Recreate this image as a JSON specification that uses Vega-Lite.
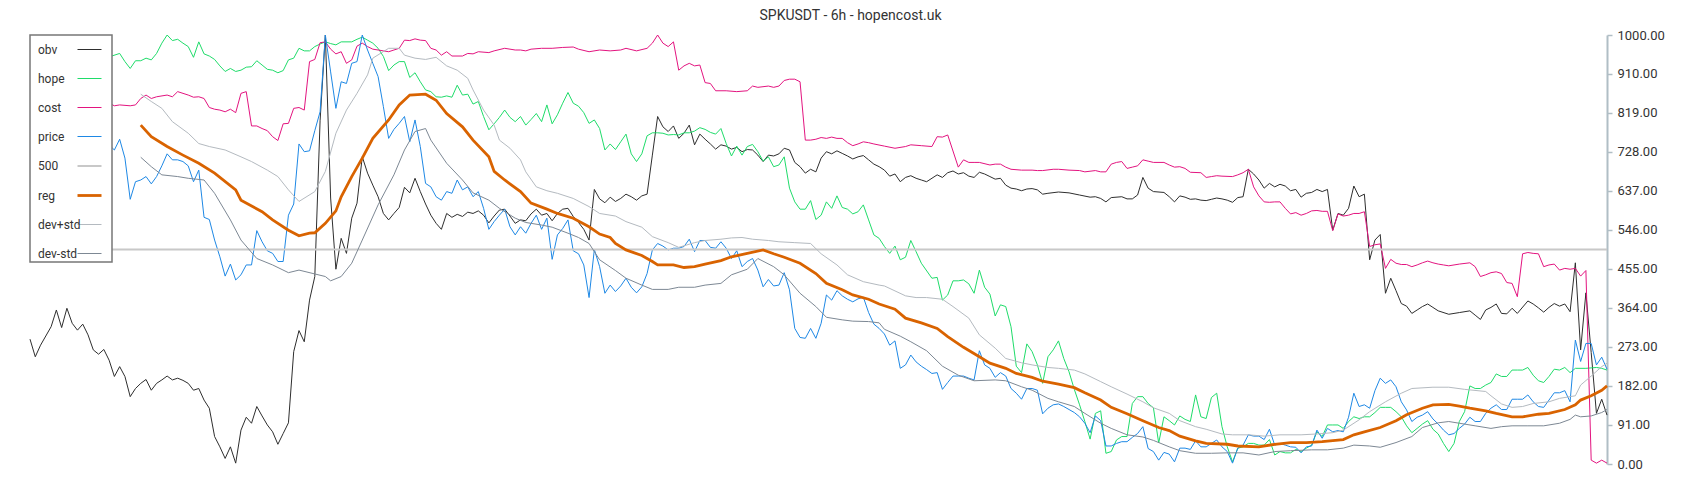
{
"$schema": "https://vega.github.io/schema/vega-lite/v6.json",
"width": 1577, "height": 429,
"autosize": {"type": "none"},
"padding": {"left": 30, "top": 35, "right": 93, "bottom": 36},
"background": "white",
"title": {"text": "SPKUSDT - 6h - hopencost.uk", "anchor": "middle", "dx": 32, "offset": 6, "fontSize": 14, "font": "Roboto", "fontWeight": "normal", "color": "#333333"},
"config": {"view": {"stroke": null}, "legend": {"strokeWidth": 1.5}},
"data": {"values": [
{"s":"obv","i":0,"v":291},{"s":"obv","i":1,"v":250},{"s":"obv","i":2,"v":277},{"s":"obv","i":4,"v":320},{"s":"obv","i":5,"v":359},{"s":"obv","i":6,"v":318},{"s":"obv","i":7,"v":363},{"s":"obv","i":8,"v":328},{"s":"obv","i":9,"v":312},{"s":"obv","i":10,"v":326},{"s":"obv","i":11,"v":301},{"s":"obv","i":12,"v":266},{"s":"obv","i":13,"v":256},{"s":"obv","i":14,"v":267},{"s":"obv","i":15,"v":242},{"s":"obv","i":16,"v":204},{"s":"obv","i":17,"v":227},{"s":"obv","i":18,"v":204},{"s":"obv","i":19,"v":157},{"s":"obv","i":20,"v":176},{"s":"obv","i":21,"v":188},{"s":"obv","i":22,"v":197},{"s":"obv","i":23,"v":172},{"s":"obv","i":24,"v":188},{"s":"obv","i":25,"v":196},{"s":"obv","i":26,"v":205},{"s":"obv","i":27,"v":196},{"s":"obv","i":28,"v":200},{"s":"obv","i":29,"v":195},{"s":"obv","i":30,"v":188},{"s":"obv","i":31,"v":172},{"s":"obv","i":32,"v":176},{"s":"obv","i":33,"v":149},{"s":"obv","i":34,"v":130},{"s":"obv","i":35,"v":64},{"s":"obv","i":36,"v":40},{"s":"obv","i":37,"v":13},{"s":"obv","i":38,"v":40},{"s":"obv","i":39,"v":2},{"s":"obv","i":40,"v":79},{"s":"obv","i":41,"v":109},{"s":"obv","i":42,"v":95},{"s":"obv","i":43,"v":134},{"s":"obv","i":44,"v":112},{"s":"obv","i":45,"v":91},{"s":"obv","i":46,"v":75},{"s":"obv","i":47,"v":46},{"s":"obv","i":48,"v":71},{"s":"obv","i":49,"v":96},{"s":"obv","i":50,"v":262},{"s":"obv","i":51,"v":311},{"s":"obv","i":52,"v":285},{"s":"obv","i":53,"v":382},{"s":"obv","i":54,"v":437},{"s":"obv","i":55,"v":800},{"s":"obv","i":56,"v":1000},{"s":"obv","i":57,"v":620},{"s":"obv","i":58,"v":454},{"s":"obv","i":59,"v":526},{"s":"obv","i":60,"v":491},{"s":"obv","i":61,"v":573},{"s":"obv","i":62,"v":608},{"s":"obv","i":63,"v":716},{"s":"obv","i":64,"v":678},{"s":"obv","i":65,"v":650},{"s":"obv","i":66,"v":623},{"s":"obv","i":67,"v":584},{"s":"obv","i":68,"v":569},{"s":"obv","i":69,"v":584},{"s":"obv","i":70,"v":598},{"s":"obv","i":71,"v":645},{"s":"obv","i":72,"v":632},{"s":"obv","i":73,"v":666},{"s":"obv","i":74,"v":635},{"s":"obv","i":75,"v":606},{"s":"obv","i":76,"v":580},{"s":"obv","i":77,"v":561},{"s":"obv","i":78,"v":547},{"s":"obv","i":79,"v":584},{"s":"obv","i":80,"v":575},{"s":"obv","i":81,"v":582},{"s":"obv","i":82,"v":577},{"s":"obv","i":83,"v":587},{"s":"obv","i":84,"v":584},{"s":"obv","i":85,"v":590},{"s":"obv","i":86,"v":580},{"s":"obv","i":87,"v":562},{"s":"obv","i":88,"v":578},{"s":"obv","i":89,"v":592},{"s":"obv","i":90,"v":594},{"s":"obv","i":91,"v":578},{"s":"obv","i":92,"v":561},{"s":"obv","i":93,"v":569},{"s":"obv","i":94,"v":567},{"s":"obv","i":95,"v":583},{"s":"obv","i":96,"v":594},{"s":"obv","i":97,"v":580},{"s":"obv","i":98,"v":584},{"s":"obv","i":99,"v":567},{"s":"obv","i":100,"v":584},{"s":"obv","i":101,"v":594},{"s":"obv","i":102,"v":596},{"s":"obv","i":103,"v":577},{"s":"obv","i":104,"v":563},{"s":"obv","i":105,"v":547},{"s":"obv","i":106,"v":522},{"s":"obv","i":107,"v":640},{"s":"obv","i":108,"v":618},{"s":"obv","i":109,"v":609},{"s":"obv","i":110,"v":622},{"s":"obv","i":111,"v":612},{"s":"obv","i":112,"v":619},{"s":"obv","i":113,"v":629},{"s":"obv","i":114,"v":623},{"s":"obv","i":115,"v":615},{"s":"obv","i":116,"v":625},{"s":"obv","i":117,"v":629},{"s":"obv","i":118,"v":720},{"s":"obv","i":119,"v":810},{"s":"obv","i":120,"v":786},{"s":"obv","i":121,"v":775},{"s":"obv","i":122,"v":788},{"s":"obv","i":123,"v":759},{"s":"obv","i":124,"v":771},{"s":"obv","i":125,"v":790},{"s":"obv","i":126,"v":744},{"s":"obv","i":127,"v":769},{"s":"obv","i":128,"v":757},{"s":"obv","i":129,"v":746},{"s":"obv","i":130,"v":734},{"s":"obv","i":131,"v":744},{"s":"obv","i":132,"v":741},{"s":"obv","i":133,"v":734},{"s":"obv","i":134,"v":738},{"s":"obv","i":135,"v":728},{"s":"obv","i":136,"v":733},{"s":"obv","i":137,"v":732},{"s":"obv","i":138,"v":720},{"s":"obv","i":139,"v":705},{"s":"obv","i":140,"v":720},{"s":"obv","i":141,"v":718},{"s":"obv","i":142,"v":723},{"s":"obv","i":143,"v":736},{"s":"obv","i":144,"v":732},{"s":"obv","i":145,"v":703},{"s":"obv","i":146,"v":693},{"s":"obv","i":147,"v":678},{"s":"obv","i":148,"v":687},{"s":"obv","i":149,"v":681},{"s":"obv","i":150,"v":713},{"s":"obv","i":151,"v":728},{"s":"obv","i":152,"v":723},{"s":"obv","i":153,"v":730},{"s":"obv","i":154,"v":724},{"s":"obv","i":155,"v":718},{"s":"obv","i":156,"v":711},{"s":"obv","i":157,"v":716},{"s":"obv","i":158,"v":719},{"s":"obv","i":159,"v":709},{"s":"obv","i":160,"v":699},{"s":"obv","i":161,"v":693},{"s":"obv","i":162,"v":685},{"s":"obv","i":163,"v":671},{"s":"obv","i":164,"v":676},{"s":"obv","i":165,"v":658},{"s":"obv","i":166,"v":668},{"s":"obv","i":167,"v":672},{"s":"obv","i":168,"v":666},{"s":"obv","i":169,"v":662},{"s":"obv","i":170,"v":658},{"s":"obv","i":172,"v":674},{"s":"obv","i":173,"v":668},{"s":"obv","i":174,"v":679},{"s":"obv","i":175,"v":683},{"s":"obv","i":176,"v":676},{"s":"obv","i":177,"v":679},{"s":"obv","i":178,"v":671},{"s":"obv","i":179,"v":668},{"s":"obv","i":180,"v":680},{"s":"obv","i":181,"v":676},{"s":"obv","i":182,"v":670},{"s":"obv","i":183,"v":664},{"s":"obv","i":184,"v":666},{"s":"obv","i":185,"v":650},{"s":"obv","i":186,"v":643},{"s":"obv","i":187,"v":641},{"s":"obv","i":188,"v":637},{"s":"obv","i":189,"v":641},{"s":"obv","i":190,"v":642},{"s":"obv","i":191,"v":639},{"s":"obv","i":192,"v":629},{"s":"obv","i":193,"v":631},{"s":"obv","i":195,"v":634},{"s":"obv","i":197,"v":632},{"s":"obv","i":199,"v":627},{"s":"obv","i":201,"v":622},{"s":"obv","i":202,"v":623},{"s":"obv","i":203,"v":619},{"s":"obv","i":204,"v":611},{"s":"obv","i":205,"v":621},{"s":"obv","i":207,"v":623},{"s":"obv","i":208,"v":618},{"s":"obv","i":209,"v":618},{"s":"obv","i":210,"v":627},{"s":"obv","i":211,"v":668},{"s":"obv","i":212,"v":643},{"s":"obv","i":213,"v":635},{"s":"obv","i":215,"v":633},{"s":"obv","i":216,"v":623},{"s":"obv","i":217,"v":611},{"s":"obv","i":218,"v":625},{"s":"obv","i":219,"v":622},{"s":"obv","i":220,"v":617},{"s":"obv","i":221,"v":618},{"s":"obv","i":222,"v":615},{"s":"obv","i":223,"v":614},{"s":"obv","i":224,"v":617},{"s":"obv","i":225,"v":620},{"s":"obv","i":226,"v":618},{"s":"obv","i":227,"v":615},{"s":"obv","i":228,"v":610},{"s":"obv","i":229,"v":621},{"s":"obv","i":230,"v":623},{"s":"obv","i":231,"v":687},{"s":"obv","i":232,"v":676},{"s":"obv","i":233,"v":662},{"s":"obv","i":234,"v":643},{"s":"obv","i":235,"v":654},{"s":"obv","i":236,"v":646},{"s":"obv","i":237,"v":652},{"s":"obv","i":238,"v":648},{"s":"obv","i":239,"v":637},{"s":"obv","i":240,"v":640},{"s":"obv","i":241,"v":622},{"s":"obv","i":242,"v":631},{"s":"obv","i":243,"v":633},{"s":"obv","i":244,"v":640},{"s":"obv","i":245,"v":635},{"s":"obv","i":246,"v":640},{"s":"obv","i":247,"v":545},{"s":"obv","i":248,"v":584},{"s":"obv","i":249,"v":580},{"s":"obv","i":250,"v":596},{"s":"obv","i":251,"v":648},{"s":"obv","i":252,"v":623},{"s":"obv","i":253,"v":629},{"s":"obv","i":254,"v":476},{"s":"obv","i":255,"v":522},{"s":"obv","i":256,"v":535},{"s":"obv","i":257,"v":398},{"s":"obv","i":258,"v":433},{"s":"obv","i":259,"v":404},{"s":"obv","i":260,"v":374},{"s":"obv","i":261,"v":368},{"s":"obv","i":262,"v":351},{"s":"obv","i":263,"v":359},{"s":"obv","i":264,"v":367},{"s":"obv","i":265,"v":373},{"s":"obv","i":266,"v":365},{"s":"obv","i":267,"v":357},{"s":"obv","i":269,"v":349},{"s":"obv","i":271,"v":353},{"s":"obv","i":273,"v":357},{"s":"obv","i":274,"v":347},{"s":"obv","i":275,"v":337},{"s":"obv","i":276,"v":359},{"s":"obv","i":277,"v":365},{"s":"obv","i":278,"v":373},{"s":"obv","i":279,"v":351},{"s":"obv","i":280,"v":350},{"s":"obv","i":281,"v":363},{"s":"obv","i":282,"v":351},{"s":"obv","i":284,"v":380},{"s":"obv","i":285,"v":373},{"s":"obv","i":286,"v":364},{"s":"obv","i":287,"v":354},{"s":"obv","i":288,"v":365},{"s":"obv","i":289,"v":374},{"s":"obv","i":290,"v":368},{"s":"obv","i":291,"v":373},{"s":"obv","i":292,"v":355},{"s":"obv","i":293,"v":469},{"s":"obv","i":294,"v":266},{"s":"obv","i":295,"v":399},{"s":"obv","i":296,"v":260},{"s":"obv","i":297,"v":118},{"s":"obv","i":298,"v":151},{"s":"obv","i":299,"v":114},
{"s":"hope","i":0,"v":950},{"s":"hope","i":3,"v":955},{"s":"hope","i":6,"v":945},{"s":"hope","i":9,"v":958},{"s":"hope","i":12,"v":950},{"s":"hope","i":15,"v":949},{"s":"hope","i":17,"v":957},{"s":"hope","i":18,"v":938},{"s":"hope","i":19,"v":922},{"s":"hope","i":20,"v":940},{"s":"hope","i":21,"v":940},{"s":"hope","i":22,"v":946},{"s":"hope","i":23,"v":942},{"s":"hope","i":24,"v":957},{"s":"hope","i":25,"v":981},{"s":"hope","i":26,"v":1000},{"s":"hope","i":27,"v":987},{"s":"hope","i":28,"v":990},{"s":"hope","i":29,"v":981},{"s":"hope","i":30,"v":973},{"s":"hope","i":31,"v":948},{"s":"hope","i":32,"v":984},{"s":"hope","i":33,"v":956},{"s":"hope","i":34,"v":951},{"s":"hope","i":35,"v":943},{"s":"hope","i":36,"v":928},{"s":"hope","i":37,"v":915},{"s":"hope","i":38,"v":922},{"s":"hope","i":39,"v":915},{"s":"hope","i":40,"v":918},{"s":"hope","i":41,"v":925},{"s":"hope","i":42,"v":926},{"s":"hope","i":43,"v":940},{"s":"hope","i":44,"v":930},{"s":"hope","i":45,"v":920},{"s":"hope","i":46,"v":918},{"s":"hope","i":47,"v":912},{"s":"hope","i":48,"v":917},{"s":"hope","i":49,"v":942},{"s":"hope","i":50,"v":946},{"s":"hope","i":51,"v":969},{"s":"hope","i":52,"v":963},{"s":"hope","i":53,"v":963},{"s":"hope","i":54,"v":973},{"s":"hope","i":55,"v":979},{"s":"hope","i":56,"v":984},{"s":"hope","i":57,"v":980},{"s":"hope","i":58,"v":977},{"s":"hope","i":59,"v":984},{"s":"hope","i":61,"v":984},{"s":"hope","i":62,"v":990},{"s":"hope","i":63,"v":995},{"s":"hope","i":64,"v":988},{"s":"hope","i":65,"v":981},{"s":"hope","i":66,"v":969},{"s":"hope","i":67,"v":950},{"s":"hope","i":68,"v":917},{"s":"hope","i":69,"v":930},{"s":"hope","i":70,"v":938},{"s":"hope","i":71,"v":938},{"s":"hope","i":72,"v":901},{"s":"hope","i":73,"v":912},{"s":"hope","i":74,"v":891},{"s":"hope","i":75,"v":872},{"s":"hope","i":76,"v":868},{"s":"hope","i":77,"v":856},{"s":"hope","i":78,"v":855},{"s":"hope","i":79,"v":858},{"s":"hope","i":80,"v":855},{"s":"hope","i":81,"v":883},{"s":"hope","i":82,"v":860},{"s":"hope","i":83,"v":862},{"s":"hope","i":84,"v":839},{"s":"hope","i":85,"v":845},{"s":"hope","i":86,"v":810},{"s":"hope","i":87,"v":779},{"s":"hope","i":88,"v":793},{"s":"hope","i":89,"v":808},{"s":"hope","i":90,"v":825},{"s":"hope","i":91,"v":808},{"s":"hope","i":92,"v":798},{"s":"hope","i":93,"v":810},{"s":"hope","i":94,"v":790},{"s":"hope","i":95,"v":803},{"s":"hope","i":96,"v":817},{"s":"hope","i":97,"v":798},{"s":"hope","i":98,"v":837},{"s":"hope","i":99,"v":793},{"s":"hope","i":100,"v":814},{"s":"hope","i":101,"v":841},{"s":"hope","i":102,"v":866},{"s":"hope","i":103,"v":841},{"s":"hope","i":104,"v":834},{"s":"hope","i":105,"v":819},{"s":"hope","i":106,"v":794},{"s":"hope","i":107,"v":802},{"s":"hope","i":108,"v":782},{"s":"hope","i":109,"v":732},{"s":"hope","i":110,"v":746},{"s":"hope","i":111,"v":733},{"s":"hope","i":112,"v":751},{"s":"hope","i":113,"v":769},{"s":"hope","i":114,"v":723},{"s":"hope","i":115,"v":705},{"s":"hope","i":116,"v":723},{"s":"hope","i":117,"v":765},{"s":"hope","i":118,"v":772},{"s":"hope","i":119,"v":772},{"s":"hope","i":120,"v":771},{"s":"hope","i":121,"v":767},{"s":"hope","i":122,"v":768},{"s":"hope","i":123,"v":767},{"s":"hope","i":124,"v":772},{"s":"hope","i":125,"v":772},{"s":"hope","i":126,"v":776},{"s":"hope","i":127,"v":784},{"s":"hope","i":128,"v":780},{"s":"hope","i":129,"v":773},{"s":"hope","i":130,"v":769},{"s":"hope","i":131,"v":782},{"s":"hope","i":132,"v":747},{"s":"hope","i":133,"v":718},{"s":"hope","i":134,"v":741},{"s":"hope","i":135,"v":720},{"s":"hope","i":136,"v":740},{"s":"hope","i":137,"v":745},{"s":"hope","i":138,"v":728},{"s":"hope","i":139,"v":706},{"s":"hope","i":140,"v":716},{"s":"hope","i":141,"v":693},{"s":"hope","i":142,"v":697},{"s":"hope","i":143,"v":716},{"s":"hope","i":144,"v":643},{"s":"hope","i":145,"v":611},{"s":"hope","i":146,"v":594},{"s":"hope","i":147,"v":594},{"s":"hope","i":148,"v":614},{"s":"hope","i":149,"v":570},{"s":"hope","i":150,"v":580},{"s":"hope","i":151,"v":611},{"s":"hope","i":152,"v":596},{"s":"hope","i":153,"v":625},{"s":"hope","i":154,"v":598},{"s":"hope","i":155,"v":594},{"s":"hope","i":156,"v":583},{"s":"hope","i":157,"v":588},{"s":"hope","i":158,"v":604},{"s":"hope","i":159,"v":569},{"s":"hope","i":160,"v":534},{"s":"hope","i":161,"v":526},{"s":"hope","i":162,"v":507},{"s":"hope","i":163,"v":491},{"s":"hope","i":164,"v":508},{"s":"hope","i":165,"v":476},{"s":"hope","i":166,"v":482},{"s":"hope","i":167,"v":521},{"s":"hope","i":168,"v":495},{"s":"hope","i":169,"v":468},{"s":"hope","i":171,"v":433},{"s":"hope","i":172,"v":435},{"s":"hope","i":173,"v":382},{"s":"hope","i":174,"v":394},{"s":"hope","i":175,"v":427},{"s":"hope","i":176,"v":427},{"s":"hope","i":177,"v":429},{"s":"hope","i":178,"v":420},{"s":"hope","i":179,"v":398},{"s":"hope","i":180,"v":452},{"s":"hope","i":181,"v":412},{"s":"hope","i":182,"v":396},{"s":"hope","i":183,"v":345},{"s":"hope","i":184,"v":371},{"s":"hope","i":185,"v":367},{"s":"hope","i":186,"v":320},{"s":"hope","i":187,"v":228},{"s":"hope","i":188,"v":213},{"s":"hope","i":189,"v":280},{"s":"hope","i":190,"v":262},{"s":"hope","i":191,"v":231},{"s":"hope","i":192,"v":188},{"s":"hope","i":193,"v":250},{"s":"hope","i":194,"v":266},{"s":"hope","i":195,"v":287},{"s":"hope","i":196,"v":246},{"s":"hope","i":197,"v":215},{"s":"hope","i":198,"v":174},{"s":"hope","i":199,"v":138},{"s":"hope","i":200,"v":99},{"s":"hope","i":201,"v":58},{"s":"hope","i":202,"v":118},{"s":"hope","i":203,"v":124},{"s":"hope","i":204,"v":25},{"s":"hope","i":205,"v":29},{"s":"hope","i":206,"v":56},{"s":"hope","i":207,"v":64},{"s":"hope","i":208,"v":64},{"s":"hope","i":209,"v":141},{"s":"hope","i":210,"v":157},{"s":"hope","i":211,"v":157},{"s":"hope","i":212,"v":141},{"s":"hope","i":213,"v":131},{"s":"hope","i":214,"v":49},{"s":"hope","i":215,"v":110},{"s":"hope","i":216,"v":101},{"s":"hope","i":217,"v":91},{"s":"hope","i":218,"v":112},{"s":"hope","i":219,"v":104},{"s":"hope","i":220,"v":99},{"s":"hope","i":221,"v":161},{"s":"hope","i":222,"v":110},{"s":"hope","i":223,"v":106},{"s":"hope","i":224,"v":155},{"s":"hope","i":225,"v":165},{"s":"hope","i":226,"v":87},{"s":"hope","i":227,"v":40},{"s":"hope","i":228,"v":5},{"s":"hope","i":229,"v":37},{"s":"hope","i":230,"v":40},{"s":"hope","i":231,"v":48},{"s":"hope","i":232,"v":48},{"s":"hope","i":233,"v":44},{"s":"hope","i":234,"v":44},{"s":"hope","i":235,"v":57},{"s":"hope","i":236,"v":21},{"s":"hope","i":237,"v":29},{"s":"hope","i":238,"v":26},{"s":"hope","i":239,"v":26},{"s":"hope","i":240,"v":34},{"s":"hope","i":241,"v":29},{"s":"hope","i":242,"v":37},{"s":"hope","i":243,"v":44},{"s":"hope","i":244,"v":75},{"s":"hope","i":245,"v":64},{"s":"hope","i":246,"v":91},{"s":"hope","i":247,"v":91},{"s":"hope","i":248,"v":91},{"s":"hope","i":249,"v":83},{"s":"hope","i":250,"v":99},{"s":"hope","i":251,"v":110},{"s":"hope","i":252,"v":106},{"s":"hope","i":253,"v":110},{"s":"hope","i":254,"v":110},{"s":"hope","i":255,"v":120},{"s":"hope","i":256,"v":132},{"s":"hope","i":257,"v":132},{"s":"hope","i":258,"v":132},{"s":"hope","i":259,"v":122},{"s":"hope","i":260,"v":110},{"s":"hope","i":261,"v":89},{"s":"hope","i":262,"v":73},{"s":"hope","i":263,"v":83},{"s":"hope","i":264,"v":93},{"s":"hope","i":265,"v":101},{"s":"hope","i":266,"v":81},{"s":"hope","i":267,"v":70},{"s":"hope","i":268,"v":48},{"s":"hope","i":269,"v":29},{"s":"hope","i":270,"v":48},{"s":"hope","i":271,"v":99},{"s":"hope","i":272,"v":122},{"s":"hope","i":273,"v":182},{"s":"hope","i":274,"v":176},{"s":"hope","i":275,"v":176},{"s":"hope","i":276,"v":184},{"s":"hope","i":277,"v":190},{"s":"hope","i":278,"v":210},{"s":"hope","i":279,"v":204},{"s":"hope","i":280,"v":204},{"s":"hope","i":281,"v":219},{"s":"hope","i":282,"v":219},{"s":"hope","i":283,"v":219},{"s":"hope","i":284,"v":225},{"s":"hope","i":285,"v":207},{"s":"hope","i":286,"v":194},{"s":"hope","i":287,"v":190},{"s":"hope","i":288,"v":204},{"s":"hope","i":289,"v":221},{"s":"hope","i":290,"v":219},{"s":"hope","i":291,"v":225},{"s":"hope","i":292,"v":213},{"s":"hope","i":293,"v":223},{"s":"hope","i":295,"v":223},{"s":"hope","i":297,"v":225},{"s":"hope","i":298,"v":223},{"s":"hope","i":299,"v":219},
{"s":"cost","i":0,"v":850},{"s":"cost","i":3,"v":848},{"s":"cost","i":6,"v":845},{"s":"cost","i":9,"v":842},{"s":"cost","i":12,"v":843},{"s":"cost","i":15,"v":841},{"s":"cost","i":16,"v":835},{"s":"cost","i":17,"v":837},{"s":"cost","i":19,"v":835},{"s":"cost","i":20,"v":837},{"s":"cost","i":21,"v":852},{"s":"cost","i":22,"v":860},{"s":"cost","i":23,"v":852},{"s":"cost","i":24,"v":856},{"s":"cost","i":26,"v":860},{"s":"cost","i":27,"v":856},{"s":"cost","i":28,"v":868},{"s":"cost","i":30,"v":860},{"s":"cost","i":31,"v":855},{"s":"cost","i":32,"v":856},{"s":"cost","i":33,"v":852},{"s":"cost","i":34,"v":831},{"s":"cost","i":35,"v":827},{"s":"cost","i":36,"v":825},{"s":"cost","i":37,"v":821},{"s":"cost","i":38,"v":827},{"s":"cost","i":39,"v":819},{"s":"cost","i":40,"v":864},{"s":"cost","i":41,"v":868},{"s":"cost","i":42,"v":788},{"s":"cost","i":43,"v":788},{"s":"cost","i":44,"v":782},{"s":"cost","i":45,"v":777},{"s":"cost","i":46,"v":763},{"s":"cost","i":47,"v":754},{"s":"cost","i":48,"v":793},{"s":"cost","i":49,"v":794},{"s":"cost","i":50,"v":829},{"s":"cost","i":51,"v":831},{"s":"cost","i":52,"v":825},{"s":"cost","i":53,"v":938},{"s":"cost","i":54,"v":943},{"s":"cost","i":55,"v":982},{"s":"cost","i":56,"v":984},{"s":"cost","i":57,"v":967},{"s":"cost","i":58,"v":956},{"s":"cost","i":59,"v":961},{"s":"cost","i":60,"v":934},{"s":"cost","i":61,"v":942},{"s":"cost","i":62,"v":974},{"s":"cost","i":63,"v":981},{"s":"cost","i":64,"v":973},{"s":"cost","i":65,"v":967},{"s":"cost","i":66,"v":965},{"s":"cost","i":67,"v":963},{"s":"cost","i":68,"v":961},{"s":"cost","i":69,"v":965},{"s":"cost","i":70,"v":969},{"s":"cost","i":71,"v":988},{"s":"cost","i":72,"v":987},{"s":"cost","i":73,"v":991},{"s":"cost","i":74,"v":988},{"s":"cost","i":75,"v":987},{"s":"cost","i":76,"v":969},{"s":"cost","i":77,"v":965},{"s":"cost","i":78,"v":953},{"s":"cost","i":79,"v":961},{"s":"cost","i":80,"v":951},{"s":"cost","i":82,"v":951},{"s":"cost","i":83,"v":957},{"s":"cost","i":84,"v":956},{"s":"cost","i":85,"v":961},{"s":"cost","i":87,"v":959},{"s":"cost","i":88,"v":963},{"s":"cost","i":90,"v":969},{"s":"cost","i":92,"v":965},{"s":"cost","i":93,"v":965},{"s":"cost","i":94,"v":963},{"s":"cost","i":95,"v":967},{"s":"cost","i":97,"v":969},{"s":"cost","i":99,"v":969},{"s":"cost","i":101,"v":971},{"s":"cost","i":103,"v":972},{"s":"cost","i":104,"v":967},{"s":"cost","i":106,"v":961},{"s":"cost","i":108,"v":965},{"s":"cost","i":110,"v":963},{"s":"cost","i":112,"v":965},{"s":"cost","i":113,"v":969},{"s":"cost","i":115,"v":963},{"s":"cost","i":117,"v":969},{"s":"cost","i":118,"v":981},{"s":"cost","i":119,"v":1000},{"s":"cost","i":120,"v":981},{"s":"cost","i":121,"v":973},{"s":"cost","i":122,"v":984},{"s":"cost","i":123,"v":918},{"s":"cost","i":124,"v":928},{"s":"cost","i":125,"v":934},{"s":"cost","i":126,"v":928},{"s":"cost","i":127,"v":930},{"s":"cost","i":128,"v":889},{"s":"cost","i":129,"v":887},{"s":"cost","i":130,"v":870},{"s":"cost","i":132,"v":870},{"s":"cost","i":134,"v":868},{"s":"cost","i":136,"v":870},{"s":"cost","i":137,"v":881},{"s":"cost","i":138,"v":878},{"s":"cost","i":140,"v":881},{"s":"cost","i":141,"v":878},{"s":"cost","i":142,"v":881},{"s":"cost","i":143,"v":894},{"s":"cost","i":144,"v":897},{"s":"cost","i":145,"v":897},{"s":"cost","i":146,"v":891},{"s":"cost","i":147,"v":755},{"s":"cost","i":148,"v":755},{"s":"cost","i":149,"v":757},{"s":"cost","i":150,"v":761},{"s":"cost","i":151,"v":759},{"s":"cost","i":152,"v":762},{"s":"cost","i":153,"v":759},{"s":"cost","i":154,"v":759},{"s":"cost","i":155,"v":749},{"s":"cost","i":156,"v":742},{"s":"cost","i":157,"v":746},{"s":"cost","i":158,"v":751},{"s":"cost","i":159,"v":749},{"s":"cost","i":160,"v":746},{"s":"cost","i":162,"v":741},{"s":"cost","i":164,"v":736},{"s":"cost","i":166,"v":740},{"s":"cost","i":167,"v":744},{"s":"cost","i":169,"v":742},{"s":"cost","i":171,"v":740},{"s":"cost","i":172,"v":763},{"s":"cost","i":173,"v":762},{"s":"cost","i":174,"v":767},{"s":"cost","i":176,"v":692},{"s":"cost","i":177,"v":709},{"s":"cost","i":178,"v":703},{"s":"cost","i":179,"v":703},{"s":"cost","i":180,"v":703},{"s":"cost","i":182,"v":697},{"s":"cost","i":183,"v":699},{"s":"cost","i":184,"v":699},{"s":"cost","i":185,"v":692},{"s":"cost","i":186,"v":687},{"s":"cost","i":188,"v":685},{"s":"cost","i":190,"v":685},{"s":"cost","i":191,"v":684},{"s":"cost","i":192,"v":684},{"s":"cost","i":194,"v":687},{"s":"cost","i":195,"v":687},{"s":"cost","i":197,"v":685},{"s":"cost","i":199,"v":684},{"s":"cost","i":200,"v":681},{"s":"cost","i":202,"v":684},{"s":"cost","i":203,"v":681},{"s":"cost","i":204,"v":681},{"s":"cost","i":205,"v":699},{"s":"cost","i":206,"v":703},{"s":"cost","i":207,"v":705},{"s":"cost","i":208,"v":689},{"s":"cost","i":209,"v":692},{"s":"cost","i":210,"v":695},{"s":"cost","i":211,"v":709},{"s":"cost","i":212,"v":706},{"s":"cost","i":213,"v":703},{"s":"cost","i":215,"v":703},{"s":"cost","i":216,"v":697},{"s":"cost","i":217,"v":692},{"s":"cost","i":218,"v":693},{"s":"cost","i":219,"v":689},{"s":"cost","i":220,"v":680},{"s":"cost","i":222,"v":679},{"s":"cost","i":223,"v":668},{"s":"cost","i":224,"v":670},{"s":"cost","i":225,"v":672},{"s":"cost","i":226,"v":671},{"s":"cost","i":228,"v":670},{"s":"cost","i":229,"v":674},{"s":"cost","i":230,"v":679},{"s":"cost","i":231,"v":687},{"s":"cost","i":232,"v":646},{"s":"cost","i":233,"v":625},{"s":"cost","i":234,"v":611},{"s":"cost","i":235,"v":610},{"s":"cost","i":236,"v":611},{"s":"cost","i":237,"v":611},{"s":"cost","i":238,"v":596},{"s":"cost","i":239,"v":583},{"s":"cost","i":240,"v":586},{"s":"cost","i":241,"v":580},{"s":"cost","i":242,"v":584},{"s":"cost","i":243,"v":590},{"s":"cost","i":244,"v":591},{"s":"cost","i":245,"v":589},{"s":"cost","i":246,"v":589},{"s":"cost","i":247,"v":544},{"s":"cost","i":248,"v":583},{"s":"cost","i":249,"v":578},{"s":"cost","i":250,"v":580},{"s":"cost","i":251,"v":584},{"s":"cost","i":252,"v":584},{"s":"cost","i":253,"v":588},{"s":"cost","i":254,"v":507},{"s":"cost","i":255,"v":511},{"s":"cost","i":256,"v":513},{"s":"cost","i":257,"v":456},{"s":"cost","i":258,"v":477},{"s":"cost","i":259,"v":468},{"s":"cost","i":260,"v":465},{"s":"cost","i":261,"v":465},{"s":"cost","i":262,"v":460},{"s":"cost","i":263,"v":464},{"s":"cost","i":264,"v":469},{"s":"cost","i":265,"v":473},{"s":"cost","i":266,"v":469},{"s":"cost","i":267,"v":466},{"s":"cost","i":268,"v":464},{"s":"cost","i":269,"v":462},{"s":"cost","i":271,"v":466},{"s":"cost","i":273,"v":469},{"s":"cost","i":274,"v":460},{"s":"cost","i":275,"v":437},{"s":"cost","i":276,"v":441},{"s":"cost","i":277,"v":446},{"s":"cost","i":278,"v":448},{"s":"cost","i":279,"v":444},{"s":"cost","i":280,"v":423},{"s":"cost","i":281,"v":421},{"s":"cost","i":282,"v":390},{"s":"cost","i":283,"v":490},{"s":"cost","i":284,"v":493},{"s":"cost","i":285,"v":491},{"s":"cost","i":286,"v":490},{"s":"cost","i":287,"v":460},{"s":"cost","i":288,"v":464},{"s":"cost","i":289,"v":466},{"s":"cost","i":290,"v":452},{"s":"cost","i":291,"v":456},{"s":"cost","i":292,"v":454},{"s":"cost","i":293,"v":456},{"s":"cost","i":294,"v":438},{"s":"cost","i":295,"v":451},{"s":"cost","i":296,"v":9},{"s":"cost","i":297,"v":2},{"s":"cost","i":298,"v":9},{"s":"cost","i":299,"v":2},
{"s":"price","i":0,"v":720},{"s":"price","i":3,"v":735},{"s":"price","i":6,"v":745},{"s":"price","i":9,"v":730},{"s":"price","i":12,"v":740},{"s":"price","i":15,"v":744},{"s":"price","i":16,"v":732},{"s":"price","i":17,"v":757},{"s":"price","i":18,"v":713},{"s":"price","i":19,"v":617},{"s":"price","i":20,"v":658},{"s":"price","i":21,"v":662},{"s":"price","i":22,"v":670},{"s":"price","i":23,"v":653},{"s":"price","i":24,"v":670},{"s":"price","i":25,"v":695},{"s":"price","i":26,"v":723},{"s":"price","i":27,"v":709},{"s":"price","i":28,"v":709},{"s":"price","i":29,"v":705},{"s":"price","i":30,"v":695},{"s":"price","i":31,"v":658},{"s":"price","i":32,"v":685},{"s":"price","i":33,"v":575},{"s":"price","i":34,"v":570},{"s":"price","i":35,"v":522},{"s":"price","i":36,"v":483},{"s":"price","i":37,"v":438},{"s":"price","i":38,"v":466},{"s":"price","i":39,"v":429},{"s":"price","i":40,"v":441},{"s":"price","i":41,"v":464},{"s":"price","i":42,"v":464},{"s":"price","i":43,"v":544},{"s":"price","i":44,"v":518},{"s":"price","i":45,"v":497},{"s":"price","i":46,"v":491},{"s":"price","i":47,"v":472},{"s":"price","i":48,"v":472},{"s":"price","i":49,"v":580},{"s":"price","i":50,"v":606},{"s":"price","i":51,"v":746},{"s":"price","i":52,"v":728},{"s":"price","i":53,"v":730},{"s":"price","i":54,"v":777},{"s":"price","i":55,"v":821},{"s":"price","i":56,"v":1000},{"s":"price","i":57,"v":914},{"s":"price","i":58,"v":829},{"s":"price","i":59,"v":891},{"s":"price","i":60,"v":887},{"s":"price","i":61,"v":934},{"s":"price","i":62,"v":938},{"s":"price","i":63,"v":1000},{"s":"price","i":64,"v":965},{"s":"price","i":65,"v":934},{"s":"price","i":66,"v":903},{"s":"price","i":67,"v":833},{"s":"price","i":68,"v":759},{"s":"price","i":69,"v":780},{"s":"price","i":70,"v":794},{"s":"price","i":71,"v":810},{"s":"price","i":72,"v":751},{"s":"price","i":73,"v":802},{"s":"price","i":74,"v":740},{"s":"price","i":75,"v":654},{"s":"price","i":76,"v":646},{"s":"price","i":77,"v":623},{"s":"price","i":78,"v":615},{"s":"price","i":79,"v":635},{"s":"price","i":80,"v":631},{"s":"price","i":81,"v":662},{"s":"price","i":82,"v":639},{"s":"price","i":83,"v":646},{"s":"price","i":84,"v":623},{"s":"price","i":85,"v":635},{"s":"price","i":86,"v":596},{"s":"price","i":87,"v":547},{"s":"price","i":88,"v":565},{"s":"price","i":89,"v":580},{"s":"price","i":90,"v":594},{"s":"price","i":91,"v":553},{"s":"price","i":92,"v":534},{"s":"price","i":93,"v":553},{"s":"price","i":94,"v":538},{"s":"price","i":95,"v":561},{"s":"price","i":96,"v":580},{"s":"price","i":97,"v":547},{"s":"price","i":98,"v":573},{"s":"price","i":99,"v":477},{"s":"price","i":100,"v":534},{"s":"price","i":101,"v":549},{"s":"price","i":102,"v":569},{"s":"price","i":103,"v":497},{"s":"price","i":104,"v":490},{"s":"price","i":105,"v":464},{"s":"price","i":106,"v":388},{"s":"price","i":107,"v":500},{"s":"price","i":108,"v":460},{"s":"price","i":109,"v":398},{"s":"price","i":110,"v":417},{"s":"price","i":111,"v":402},{"s":"price","i":112,"v":415},{"s":"price","i":113,"v":433},{"s":"price","i":114,"v":412},{"s":"price","i":115,"v":399},{"s":"price","i":116,"v":413},{"s":"price","i":117,"v":444},{"s":"price","i":118,"v":499},{"s":"price","i":119,"v":514},{"s":"price","i":120,"v":508},{"s":"price","i":121,"v":499},{"s":"price","i":122,"v":503},{"s":"price","i":123,"v":503},{"s":"price","i":124,"v":507},{"s":"price","i":125,"v":524},{"s":"price","i":126,"v":495},{"s":"price","i":127,"v":521},{"s":"price","i":128,"v":521},{"s":"price","i":129,"v":505},{"s":"price","i":130,"v":503},{"s":"price","i":131,"v":518},{"s":"price","i":132,"v":503},{"s":"price","i":133,"v":479},{"s":"price","i":134,"v":497},{"s":"price","i":135,"v":460},{"s":"price","i":136,"v":472},{"s":"price","i":137,"v":479},{"s":"price","i":138,"v":452},{"s":"price","i":139,"v":413},{"s":"price","i":140,"v":430},{"s":"price","i":141,"v":415},{"s":"price","i":142,"v":417},{"s":"price","i":143,"v":446},{"s":"price","i":144,"v":406},{"s":"price","i":145,"v":316},{"s":"price","i":146,"v":295},{"s":"price","i":147,"v":293},{"s":"price","i":148,"v":316},{"s":"price","i":149,"v":293},{"s":"price","i":150,"v":328},{"s":"price","i":151,"v":394},{"s":"price","i":152,"v":382},{"s":"price","i":153,"v":404},{"s":"price","i":154,"v":392},{"s":"price","i":155,"v":384},{"s":"price","i":156,"v":378},{"s":"price","i":157,"v":385},{"s":"price","i":158,"v":389},{"s":"price","i":159,"v":353},{"s":"price","i":160,"v":326},{"s":"price","i":161,"v":316},{"s":"price","i":162,"v":303},{"s":"price","i":163,"v":277},{"s":"price","i":164,"v":287},{"s":"price","i":165,"v":223},{"s":"price","i":166,"v":231},{"s":"price","i":167,"v":254},{"s":"price","i":168,"v":238},{"s":"price","i":169,"v":228},{"s":"price","i":170,"v":220},{"s":"price","i":171,"v":211},{"s":"price","i":172,"v":213},{"s":"price","i":173,"v":174},{"s":"price","i":174,"v":190},{"s":"price","i":175,"v":205},{"s":"price","i":176,"v":205},{"s":"price","i":177,"v":205},{"s":"price","i":178,"v":200},{"s":"price","i":179,"v":196},{"s":"price","i":180,"v":264},{"s":"price","i":181,"v":231},{"s":"price","i":182,"v":223},{"s":"price","i":183,"v":202},{"s":"price","i":184,"v":213},{"s":"price","i":185,"v":205},{"s":"price","i":186,"v":176},{"s":"price","i":187,"v":165},{"s":"price","i":188,"v":151},{"s":"price","i":189,"v":176},{"s":"price","i":190,"v":176},{"s":"price","i":191,"v":172},{"s":"price","i":192,"v":117},{"s":"price","i":193,"v":130},{"s":"price","i":194,"v":138},{"s":"price","i":195,"v":140},{"s":"price","i":196,"v":134},{"s":"price","i":197,"v":127},{"s":"price","i":198,"v":120},{"s":"price","i":199,"v":110},{"s":"price","i":200,"v":95},{"s":"price","i":201,"v":73},{"s":"price","i":202,"v":112},{"s":"price","i":203,"v":101},{"s":"price","i":204,"v":42},{"s":"price","i":205,"v":42},{"s":"price","i":206,"v":48},{"s":"price","i":207,"v":52},{"s":"price","i":208,"v":52},{"s":"price","i":209,"v":62},{"s":"price","i":210,"v":71},{"s":"price","i":211,"v":87},{"s":"price","i":212,"v":36},{"s":"price","i":213,"v":29},{"s":"price","i":214,"v":9},{"s":"price","i":215,"v":27},{"s":"price","i":216,"v":23},{"s":"price","i":217,"v":5},{"s":"price","i":218,"v":37},{"s":"price","i":219,"v":37},{"s":"price","i":220,"v":34},{"s":"price","i":221,"v":54},{"s":"price","i":222,"v":40},{"s":"price","i":223,"v":40},{"s":"price","i":224,"v":48},{"s":"price","i":225,"v":56},{"s":"price","i":226,"v":40},{"s":"price","i":227,"v":29},{"s":"price","i":228,"v":2},{"s":"price","i":229,"v":37},{"s":"price","i":230,"v":44},{"s":"price","i":231,"v":68},{"s":"price","i":232,"v":65},{"s":"price","i":233,"v":65},{"s":"price","i":234,"v":57},{"s":"price","i":235,"v":81},{"s":"price","i":236,"v":44},{"s":"price","i":237,"v":48},{"s":"price","i":238,"v":44},{"s":"price","i":239,"v":40},{"s":"price","i":240,"v":39},{"s":"price","i":241,"v":26},{"s":"price","i":242,"v":40},{"s":"price","i":243,"v":42},{"s":"price","i":244,"v":79},{"s":"price","i":245,"v":60},{"s":"price","i":246,"v":83},{"s":"price","i":247,"v":75},{"s":"price","i":248,"v":78},{"s":"price","i":249,"v":75},{"s":"price","i":250,"v":109},{"s":"price","i":251,"v":165},{"s":"price","i":252,"v":134},{"s":"price","i":253,"v":138},{"s":"price","i":254,"v":130},{"s":"price","i":255,"v":171},{"s":"price","i":256,"v":200},{"s":"price","i":257,"v":188},{"s":"price","i":258,"v":196},{"s":"price","i":259,"v":180},{"s":"price","i":260,"v":145},{"s":"price","i":261,"v":126},{"s":"price","i":262,"v":99},{"s":"price","i":263,"v":109},{"s":"price","i":264,"v":114},{"s":"price","i":265,"v":122},{"s":"price","i":266,"v":105},{"s":"price","i":267,"v":93},{"s":"price","i":268,"v":79},{"s":"price","i":269,"v":68},{"s":"price","i":270,"v":71},{"s":"price","i":271,"v":83},{"s":"price","i":272,"v":93},{"s":"price","i":273,"v":109},{"s":"price","i":274,"v":99},{"s":"price","i":275,"v":99},{"s":"price","i":276,"v":118},{"s":"price","i":277,"v":130},{"s":"price","i":278,"v":138},{"s":"price","i":279,"v":127},{"s":"price","i":280,"v":127},{"s":"price","i":281,"v":151},{"s":"price","i":282,"v":151},{"s":"price","i":283,"v":151},{"s":"price","i":284,"v":161},{"s":"price","i":285,"v":145},{"s":"price","i":286,"v":134},{"s":"price","i":287,"v":132},{"s":"price","i":288,"v":149},{"s":"price","i":289,"v":166},{"s":"price","i":290,"v":166},{"s":"price","i":291,"v":171},{"s":"price","i":292,"v":145},{"s":"price","i":293,"v":289},{"s":"price","i":294,"v":239},{"s":"price","i":295,"v":281},{"s":"price","i":296,"v":281},{"s":"price","i":297,"v":231},{"s":"price","i":298,"v":249},{"s":"price","i":299,"v":221},
{"s":"500","i":0,"v":500},{"s":"500","i":299,"v":500},
{"s":"reg","i":21,"v":790},{"s":"reg","i":23,"v":763},{"s":"reg","i":26,"v":740},{"s":"reg","i":29,"v":720},{"s":"reg","i":32,"v":701},{"s":"reg","i":35,"v":678},{"s":"reg","i":39,"v":639},{"s":"reg","i":40,"v":615},{"s":"reg","i":44,"v":588},{"s":"reg","i":46,"v":569},{"s":"reg","i":49,"v":545},{"s":"reg","i":51,"v":532},{"s":"reg","i":53,"v":538},{"s":"reg","i":54,"v":539},{"s":"reg","i":56,"v":561},{"s":"reg","i":58,"v":590},{"s":"reg","i":59,"v":623},{"s":"reg","i":61,"v":670},{"s":"reg","i":63,"v":713},{"s":"reg","i":65,"v":759},{"s":"reg","i":68,"v":802},{"s":"reg","i":70,"v":837},{"s":"reg","i":72,"v":860},{"s":"reg","i":75,"v":862},{"s":"reg","i":77,"v":848},{"s":"reg","i":79,"v":817},{"s":"reg","i":82,"v":786},{"s":"reg","i":84,"v":755},{"s":"reg","i":87,"v":716},{"s":"reg","i":88,"v":682},{"s":"reg","i":90,"v":662},{"s":"reg","i":93,"v":635},{"s":"reg","i":95,"v":608},{"s":"reg","i":98,"v":594},{"s":"reg","i":100,"v":584},{"s":"reg","i":103,"v":573},{"s":"reg","i":106,"v":553},{"s":"reg","i":108,"v":536},{"s":"reg","i":110,"v":528},{"s":"reg","i":111,"v":514},{"s":"reg","i":113,"v":499},{"s":"reg","i":116,"v":486},{"s":"reg","i":118,"v":472},{"s":"reg","i":119,"v":464},{"s":"reg","i":122,"v":464},{"s":"reg","i":124,"v":458},{"s":"reg","i":126,"v":460},{"s":"reg","i":128,"v":466},{"s":"reg","i":131,"v":474},{"s":"reg","i":133,"v":483},{"s":"reg","i":136,"v":491},{"s":"reg","i":139,"v":499},{"s":"reg","i":141,"v":490},{"s":"reg","i":143,"v":482},{"s":"reg","i":146,"v":468},{"s":"reg","i":149,"v":444},{"s":"reg","i":151,"v":421},{"s":"reg","i":154,"v":406},{"s":"reg","i":156,"v":394},{"s":"reg","i":159,"v":384},{"s":"reg","i":161,"v":373},{"s":"reg","i":164,"v":361},{"s":"reg","i":166,"v":340},{"s":"reg","i":169,"v":329},{"s":"reg","i":172,"v":316},{"s":"reg","i":174,"v":297},{"s":"reg","i":177,"v":272},{"s":"reg","i":180,"v":250},{"s":"reg","i":182,"v":235},{"s":"reg","i":185,"v":223},{"s":"reg","i":187,"v":211},{"s":"reg","i":190,"v":202},{"s":"reg","i":192,"v":193},{"s":"reg","i":195,"v":186},{"s":"reg","i":198,"v":178},{"s":"reg","i":200,"v":166},{"s":"reg","i":203,"v":149},{"s":"reg","i":205,"v":132},{"s":"reg","i":208,"v":117},{"s":"reg","i":211,"v":101},{"s":"reg","i":214,"v":85},{"s":"reg","i":216,"v":78},{"s":"reg","i":218,"v":65},{"s":"reg","i":221,"v":54},{"s":"reg","i":223,"v":48},{"s":"reg","i":227,"v":46},{"s":"reg","i":229,"v":42},{"s":"reg","i":233,"v":40},{"s":"reg","i":236,"v":46},{"s":"reg","i":239,"v":50},{"s":"reg","i":242,"v":50},{"s":"reg","i":245,"v":52},{"s":"reg","i":249,"v":57},{"s":"reg","i":251,"v":68},{"s":"reg","i":253,"v":75},{"s":"reg","i":256,"v":85},{"s":"reg","i":259,"v":101},{"s":"reg","i":261,"v":115},{"s":"reg","i":264,"v":130},{"s":"reg","i":266,"v":138},{"s":"reg","i":269,"v":139},{"s":"reg","i":271,"v":135},{"s":"reg","i":273,"v":130},{"s":"reg","i":276,"v":124},{"s":"reg","i":278,"v":118},{"s":"reg","i":281,"v":110},{"s":"reg","i":283,"v":110},{"s":"reg","i":286,"v":116},{"s":"reg","i":288,"v":118},{"s":"reg","i":291,"v":127},{"s":"reg","i":293,"v":138},{"s":"reg","i":294,"v":149},{"s":"reg","i":296,"v":159},{"s":"reg","i":298,"v":172},{"s":"reg","i":299,"v":182},
{"s":"dev+std","i":21,"v":862},{"s":"dev+std","i":23,"v":845},{"s":"dev+std","i":25,"v":829},{"s":"dev+std","i":27,"v":798},{"s":"dev+std","i":30,"v":771},{"s":"dev+std","i":32,"v":747},{"s":"dev+std","i":34,"v":740},{"s":"dev+std","i":37,"v":732},{"s":"dev+std","i":40,"v":716},{"s":"dev+std","i":42,"v":705},{"s":"dev+std","i":45,"v":685},{"s":"dev+std","i":47,"v":670},{"s":"dev+std","i":49,"v":639},{"s":"dev+std","i":51,"v":612},{"s":"dev+std","i":54,"v":635},{"s":"dev+std","i":56,"v":682},{"s":"dev+std","i":58,"v":771},{"s":"dev+std","i":60,"v":825},{"s":"dev+std","i":62,"v":864},{"s":"dev+std","i":64,"v":907},{"s":"dev+std","i":65,"v":946},{"s":"dev+std","i":68,"v":969},{"s":"dev+std","i":70,"v":969},{"s":"dev+std","i":71,"v":953},{"s":"dev+std","i":73,"v":946},{"s":"dev+std","i":75,"v":943},{"s":"dev+std","i":77,"v":948},{"s":"dev+std","i":79,"v":928},{"s":"dev+std","i":81,"v":918},{"s":"dev+std","i":83,"v":899},{"s":"dev+std","i":84,"v":872},{"s":"dev+std","i":86,"v":825},{"s":"dev+std","i":88,"v":790},{"s":"dev+std","i":89,"v":755},{"s":"dev+std","i":91,"v":736},{"s":"dev+std","i":93,"v":709},{"s":"dev+std","i":94,"v":681},{"s":"dev+std","i":96,"v":646},{"s":"dev+std","i":98,"v":637},{"s":"dev+std","i":100,"v":631},{"s":"dev+std","i":103,"v":619},{"s":"dev+std","i":106,"v":600},{"s":"dev+std","i":108,"v":584},{"s":"dev+std","i":111,"v":578},{"s":"dev+std","i":113,"v":565},{"s":"dev+std","i":116,"v":552},{"s":"dev+std","i":118,"v":530},{"s":"dev+std","i":121,"v":516},{"s":"dev+std","i":123,"v":505},{"s":"dev+std","i":126,"v":516},{"s":"dev+std","i":128,"v":521},{"s":"dev+std","i":131,"v":524},{"s":"dev+std","i":133,"v":527},{"s":"dev+std","i":135,"v":528},{"s":"dev+std","i":137,"v":524},{"s":"dev+std","i":140,"v":521},{"s":"dev+std","i":142,"v":518},{"s":"dev+std","i":145,"v":516},{"s":"dev+std","i":148,"v":514},{"s":"dev+std","i":150,"v":490},{"s":"dev+std","i":153,"v":464},{"s":"dev+std","i":155,"v":441},{"s":"dev+std","i":158,"v":425},{"s":"dev+std","i":161,"v":417},{"s":"dev+std","i":162,"v":415},{"s":"dev+std","i":166,"v":392},{"s":"dev+std","i":168,"v":388},{"s":"dev+std","i":170,"v":388},{"s":"dev+std","i":173,"v":384},{"s":"dev+std","i":175,"v":367},{"s":"dev+std","i":178,"v":340},{"s":"dev+std","i":180,"v":301},{"s":"dev+std","i":183,"v":270},{"s":"dev+std","i":185,"v":246},{"s":"dev+std","i":188,"v":236},{"s":"dev+std","i":190,"v":231},{"s":"dev+std","i":193,"v":225},{"s":"dev+std","i":195,"v":223},{"s":"dev+std","i":198,"v":219},{"s":"dev+std","i":200,"v":210},{"s":"dev+std","i":203,"v":192},{"s":"dev+std","i":205,"v":180},{"s":"dev+std","i":208,"v":163},{"s":"dev+std","i":211,"v":145},{"s":"dev+std","i":213,"v":131},{"s":"dev+std","i":216,"v":118},{"s":"dev+std","i":218,"v":101},{"s":"dev+std","i":221,"v":87},{"s":"dev+std","i":223,"v":81},{"s":"dev+std","i":226,"v":70},{"s":"dev+std","i":228,"v":68},{"s":"dev+std","i":231,"v":68},{"s":"dev+std","i":234,"v":65},{"s":"dev+std","i":237,"v":68},{"s":"dev+std","i":241,"v":68},{"s":"dev+std","i":244,"v":70},{"s":"dev+std","i":247,"v":73},{"s":"dev+std","i":249,"v":79},{"s":"dev+std","i":252,"v":103},{"s":"dev+std","i":254,"v":122},{"s":"dev+std","i":257,"v":145},{"s":"dev+std","i":260,"v":165},{"s":"dev+std","i":262,"v":176},{"s":"dev+std","i":266,"v":179},{"s":"dev+std","i":269,"v":179},{"s":"dev+std","i":272,"v":174},{"s":"dev+std","i":276,"v":169},{"s":"dev+std","i":277,"v":159},{"s":"dev+std","i":279,"v":140},{"s":"dev+std","i":281,"v":132},{"s":"dev+std","i":283,"v":134},{"s":"dev+std","i":285,"v":141},{"s":"dev+std","i":288,"v":145},{"s":"dev+std","i":290,"v":153},{"s":"dev+std","i":293,"v":159},{"s":"dev+std","i":294,"v":184},{"s":"dev+std","i":296,"v":205},{"s":"dev+std","i":298,"v":227},{"s":"dev+std","i":299,"v":235},
{"s":"dev-std","i":21,"v":715},{"s":"dev-std","i":23,"v":693},{"s":"dev-std","i":25,"v":674},{"s":"dev-std","i":28,"v":670},{"s":"dev-std","i":30,"v":666},{"s":"dev-std","i":33,"v":662},{"s":"dev-std","i":35,"v":631},{"s":"dev-std","i":38,"v":569},{"s":"dev-std","i":40,"v":522},{"s":"dev-std","i":43,"v":479},{"s":"dev-std","i":46,"v":464},{"s":"dev-std","i":49,"v":446},{"s":"dev-std","i":51,"v":452},{"s":"dev-std","i":54,"v":443},{"s":"dev-std","i":56,"v":437},{"s":"dev-std","i":57,"v":427},{"s":"dev-std","i":59,"v":437},{"s":"dev-std","i":61,"v":468},{"s":"dev-std","i":63,"v":522},{"s":"dev-std","i":66,"v":604},{"s":"dev-std","i":69,"v":674},{"s":"dev-std","i":71,"v":732},{"s":"dev-std","i":73,"v":775},{"s":"dev-std","i":75,"v":782},{"s":"dev-std","i":76,"v":755},{"s":"dev-std","i":79,"v":701},{"s":"dev-std","i":82,"v":662},{"s":"dev-std","i":84,"v":632},{"s":"dev-std","i":87,"v":615},{"s":"dev-std","i":89,"v":596},{"s":"dev-std","i":92,"v":573},{"s":"dev-std","i":94,"v":563},{"s":"dev-std","i":97,"v":557},{"s":"dev-std","i":99,"v":552},{"s":"dev-std","i":102,"v":538},{"s":"dev-std","i":104,"v":528},{"s":"dev-std","i":106,"v":514},{"s":"dev-std","i":107,"v":495},{"s":"dev-std","i":108,"v":476},{"s":"dev-std","i":111,"v":451},{"s":"dev-std","i":113,"v":433},{"s":"dev-std","i":116,"v":417},{"s":"dev-std","i":118,"v":407},{"s":"dev-std","i":121,"v":407},{"s":"dev-std","i":123,"v":412},{"s":"dev-std","i":126,"v":412},{"s":"dev-std","i":128,"v":417},{"s":"dev-std","i":131,"v":421},{"s":"dev-std","i":133,"v":441},{"s":"dev-std","i":136,"v":454},{"s":"dev-std","i":138,"v":479},{"s":"dev-std","i":141,"v":460},{"s":"dev-std","i":143,"v":441},{"s":"dev-std","i":146,"v":398},{"s":"dev-std","i":149,"v":367},{"s":"dev-std","i":151,"v":342},{"s":"dev-std","i":154,"v":336},{"s":"dev-std","i":156,"v":333},{"s":"dev-std","i":159,"v":332},{"s":"dev-std","i":161,"v":329},{"s":"dev-std","i":162,"v":314},{"s":"dev-std","i":165,"v":298},{"s":"dev-std","i":167,"v":285},{"s":"dev-std","i":170,"v":264},{"s":"dev-std","i":173,"v":228},{"s":"dev-std","i":176,"v":207},{"s":"dev-std","i":179,"v":194},{"s":"dev-std","i":183,"v":196},{"s":"dev-std","i":185,"v":194},{"s":"dev-std","i":188,"v":180},{"s":"dev-std","i":190,"v":172},{"s":"dev-std","i":193,"v":153},{"s":"dev-std","i":195,"v":145},{"s":"dev-std","i":198,"v":134},{"s":"dev-std","i":200,"v":118},{"s":"dev-std","i":203,"v":95},{"s":"dev-std","i":205,"v":83},{"s":"dev-std","i":208,"v":68},{"s":"dev-std","i":211,"v":63},{"s":"dev-std","i":213,"v":55},{"s":"dev-std","i":216,"v":40},{"s":"dev-std","i":218,"v":31},{"s":"dev-std","i":221,"v":25},{"s":"dev-std","i":224,"v":25},{"s":"dev-std","i":227,"v":26},{"s":"dev-std","i":230,"v":26},{"s":"dev-std","i":233,"v":21},{"s":"dev-std","i":236,"v":29},{"s":"dev-std","i":239,"v":31},{"s":"dev-std","i":243,"v":33},{"s":"dev-std","i":246,"v":33},{"s":"dev-std","i":249,"v":37},{"s":"dev-std","i":251,"v":44},{"s":"dev-std","i":254,"v":42},{"s":"dev-std","i":256,"v":39},{"s":"dev-std","i":259,"v":50},{"s":"dev-std","i":262,"v":64},{"s":"dev-std","i":264,"v":85},{"s":"dev-std","i":267,"v":96},{"s":"dev-std","i":269,"v":99},{"s":"dev-std","i":271,"v":95},{"s":"dev-std","i":274,"v":89},{"s":"dev-std","i":277,"v":83},{"s":"dev-std","i":279,"v":87},{"s":"dev-std","i":281,"v":89},{"s":"dev-std","i":284,"v":89},{"s":"dev-std","i":287,"v":89},{"s":"dev-std","i":290,"v":95},{"s":"dev-std","i":292,"v":104},{"s":"dev-std","i":293,"v":114},{"s":"dev-std","i":294,"v":110},{"s":"dev-std","i":296,"v":112},{"s":"dev-std","i":298,"v":120},{"s":"dev-std","i":299,"v":127}
]},
"mark": {"type": "line", "interpolate": "linear"},
"encoding": {
"x": {"field": "i", "type": "quantitative", "axis": null, "scale": {"domain": [0, 299], "nice": false, "zero": false}},
"y": {"field": "v", "type": "quantitative", "scale": {"domain": [0, 1000], "nice": false}, "axis": {"orient": "right", "title": null, "values": [0,91,182,273,364,455,546,637,728,819,910,1000], "format": ".2f", "grid": false, "domainColor": "#b0bec5", "domainWidth": 2, "tickColor": "#b0bec5", "tickWidth": 1.5, "tickSize": 5, "labelPadding": 5, "labelFontSize": 13, "labelFont": "Roboto", "labelColor": "#333333"}},
"color": {"field": "s", "type": "nominal",
  "scale": {"domain": ["obv","hope","cost","price","500","reg","dev+std","dev-std"], "range": ["#2e2e2e","#1fdc6a","#e3147f","#1e88e5","#c8c8c8","#d96300","#b4bac0","#7d8894"]},
  "legend": {"title": " ", "titleOrient": "right", "titlePadding": 3, "titleFontSize": 12, "orient": "top-left", "offset": 0, "symbolType": "stroke", "symbolSize": 576, "symbolOffset": 44, "labelOffset": -65, "rowPadding": 10, "padding": 2, "fillColor": "white", "strokeColor": "#777777", "labelFont": "Roboto", "labelFontSize": 12, "labelColor": "#333333", "labelLimit": 0}},
"strokeWidth": {"field": "s", "type": "nominal",
  "scale": {"type": "ordinal", "domain": ["obv","hope","cost","price","500","reg","dev+std","dev-std"], "range": [1,1,1,1,2,2.8,1,1]},
  "legend": {"title": " ", "titleOrient": "right", "titlePadding": 3, "titleFontSize": 12, "orient": "top-left", "offset": 0, "symbolType": "stroke", "symbolSize": 576, "symbolOffset": 44, "labelOffset": -65, "rowPadding": 10, "padding": 2, "fillColor": "white", "strokeColor": "#777777", "labelFont": "Roboto", "labelFontSize": 12, "labelColor": "#333333", "labelLimit": 0}}
}
}
